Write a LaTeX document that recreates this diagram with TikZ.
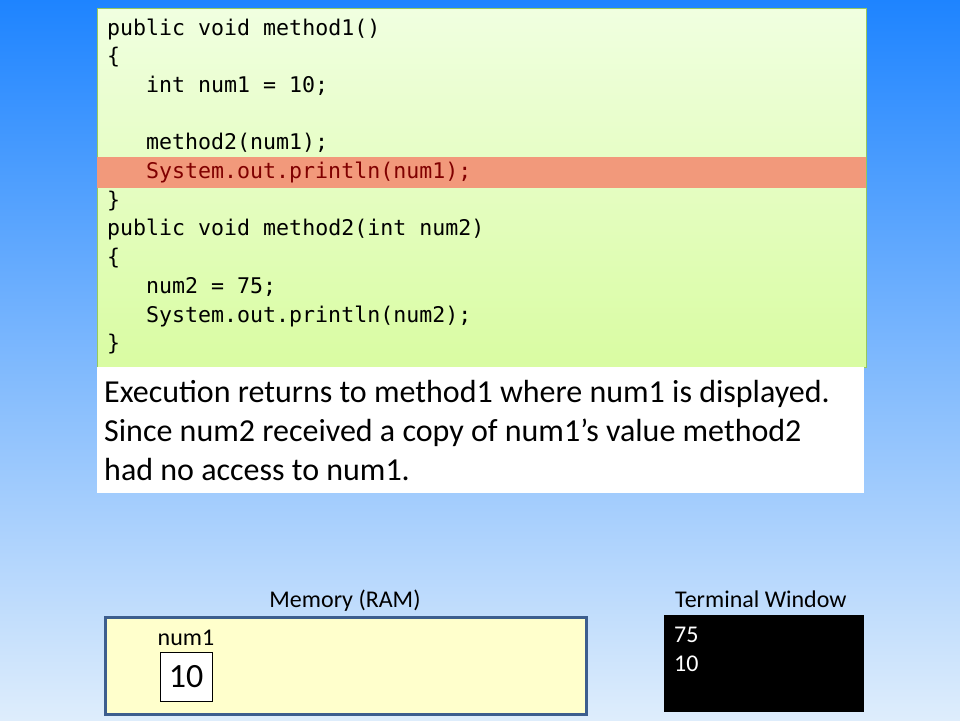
\documentclass[tikz,border=0pt]{standalone}
\usepackage{fontspec}
\setmainfont{Carlito}
\newfontfamily\codefont{DejaVu Sans Mono}
\definecolor{bgtop}{RGB}{30,132,255}
\definecolor{bgbot}{RGB}{222,237,252}
\definecolor{codetop}{RGB}{240,255,224}
\definecolor{codebot}{RGB}{217,252,162}
\definecolor{codeborder}{RGB}{150,200,95}
\definecolor{hlfill}{RGB}{242,153,123}
\definecolor{hltext}{RGB}{128,0,0}
\definecolor{memfill}{RGB}{255,255,204}
\definecolor{memborder}{RGB}{61,94,142}
\tikzset{
  codeline/.style={anchor=base west, inner sep=0pt, font=\codefont\fontsize{21.6}{26}\selectfont},
  expl/.style={anchor=base west, inner sep=0pt, font=\fontsize{32}{38}\selectfont},
  lbl/.style={inner sep=0pt, font=\fontsize{24}{28}\selectfont},
  term/.style={anchor=base west, inner sep=0pt, text=white, font=\fontsize{24}{28}\selectfont},
}
\begin{document}
\begin{tikzpicture}[x=1pt,y=-1pt]
\shade[top color=bgtop,bottom color=bgbot] (0,0) rectangle (960,720);
\useasboundingbox (0,0) rectangle (960,720);
% code box
\node[anchor=north west, draw=codeborder, line width=0.8pt, top color=codetop, bottom color=codebot, minimum width=769pt, minimum height=359pt, inner sep=0pt] (code) at (97,8) {};
\node[anchor=north west, fill=hlfill, minimum width=769pt, minimum height=31pt, inner sep=0pt] (hl) at (97,157) {};
\node[codeline] (l1) at (107,35) {public void method1()};
\node[codeline] (l2) at (107,63.7) {\{};
\node[codeline] (l3) at (146,92.4) {int num1 = 10;};
\node[codeline] (l5) at (146,149.8) {method2(num1);};
\node[codeline, text=hltext] (l6) at (146,178.5) {System.out.println(num1);};
\node[codeline] (l7) at (107,207.2) {\}};
\node[codeline] (l8) at (107,235.9) {public void method2(int num2)};
\node[codeline] (l9) at (107,264.6) {\{};
\node[codeline] (l10) at (146,293.3) {num2 = 75;};
\node[codeline] (l11) at (146,322) {System.out.println(num2);};
\node[codeline] (l12) at (107,350.7) {\}};
% explanation
\node[anchor=north west, fill=white, minimum width=767pt, minimum height=126pt, inner sep=0pt] (expbox) at (97,367) {};
\node[expl] (e1) at (104,402) {Execution returns to method1 where num1 is displayed.};
\node[expl] (e2) at (104,441) {Since num2 received a copy of num1’s value method2};
\node[expl] (e3) at (104,480) {had no access to num1.};
% memory
\node[lbl, anchor=base] (memlbl) at (345,607) {Memory (RAM)};
\node[anchor=north west, fill=memfill, draw=memborder, line width=2.5pt, minimum width=481pt, minimum height=97pt, inner sep=0pt] (mem) at (104,616) {};
\node[lbl, anchor=base] (numlbl) at (186,645) {num1};
\node[anchor=north west, fill=white, draw=black, line width=0.8pt, minimum width=52pt, minimum height=49pt, inner sep=0pt] (valbox) at (160,652) {};
\node[inner sep=0pt, anchor=base, font=\fontsize{34}{40}\selectfont] (val) at (186,687) {10};
% terminal
\node[lbl, anchor=base west] (termlbl) at (675,607) {Terminal Window};
\node[anchor=north west, fill=black, minimum width=200pt, minimum height=97pt, inner sep=0pt] (termbox) at (664,615) {};
\node[term] (t1) at (674,642) {75};
\node[term] (t2) at (674,671) {10};
\end{tikzpicture}
\end{document}
